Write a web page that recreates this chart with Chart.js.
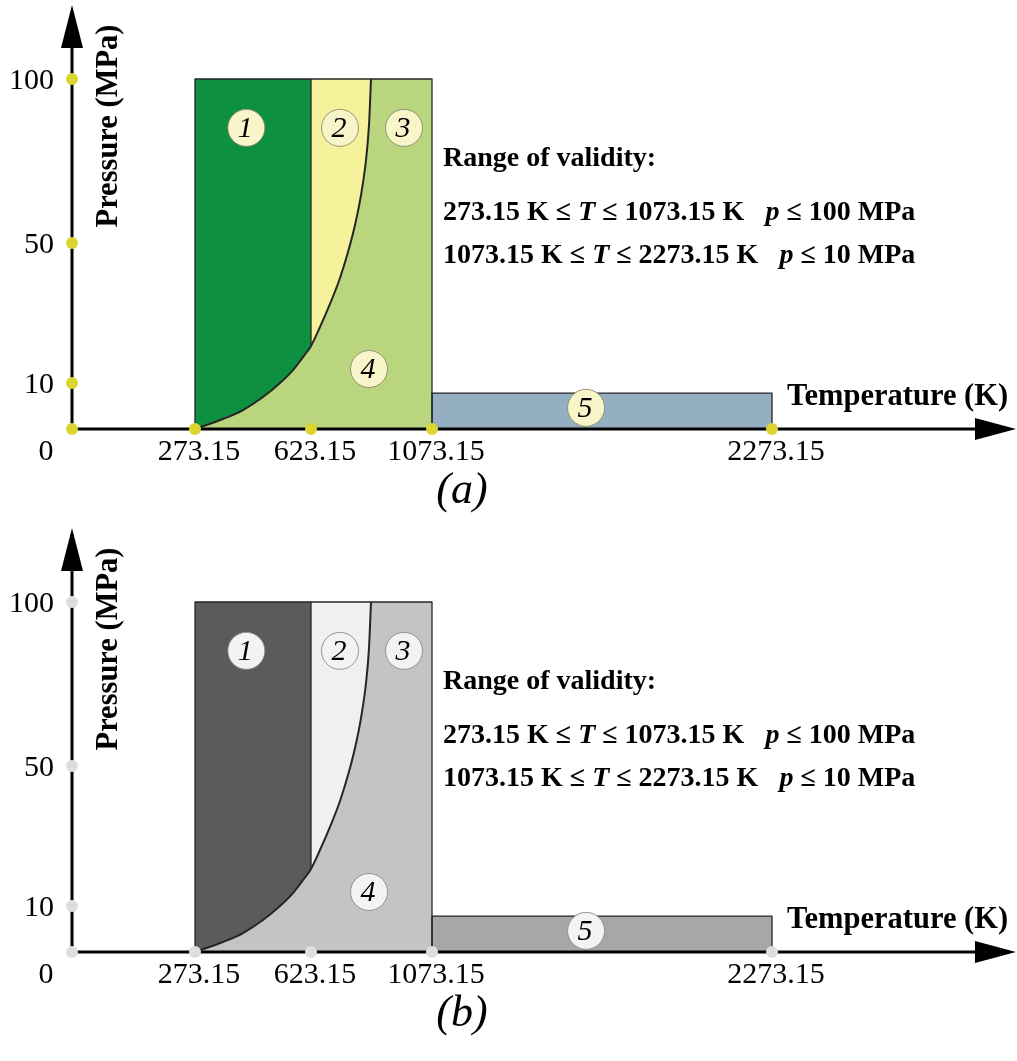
<!DOCTYPE html>
<html>
<head>
<meta charset="utf-8">
<script src="https://cdn.jsdelivr.net/npm/chart.js@4.4.1/dist/chart.umd.min.js"></script>
<style>
  body { margin: 0; background: #fff; width: 1017px; height: 1061px; position: relative; overflow: hidden; }
  canvas { position: absolute; left: 0; display: block; }
  #chartA { top: 0; }
  #chartB { top: 523px; }
</style>
</head>
<body>
<canvas id="chartA" width="1017" height="523"></canvas>
<canvas id="chartB" width="1017" height="538"></canvas>
<script>
// tick values on the two axes (K and MPa)
const tempTicks = [0, 273.15, 623.15, 1073.15, 2273.15];
const pressTicks = [0, 10, 50, 100];

// saturation line joined to the B23 boundary
const boundaryT = [273.15, 357.6, 418.0, 478.3, 529.6, 568.8, 599.0, 623.15, 656.6, 693.8, 731.0, 760.8, 786.8, 809.1, 827.7, 838.9, 846.3];
const boundaryP = [0, 2.17, 4.13, 6.96, 10.0, 13.7, 17.4, 20.6, 26.0, 32.6, 40.0, 47.4, 55.5, 64.6, 75.3, 86.0, 100];

// region limits
const mainT = [273.15, 1073.15];
const mainP = [0, 100];
const region5T = [1073.15, 2273.15];
const region5P = [0, 7.8];

// region number markers
const regionNames = ['1', '2', '3', '4', '5'];
const regionLabelT = [428, 731, 969, 839, 1617];
const regionLabelP = [85.1, 85.1, 85.1, 14.0, 4.6];

// the figure's axes are not linear: each tick gets its own share of the axis
const axisBreaks = {
  x: { stops: [0, 273.15, 623.15, 1073.15, 2273.15, 3130], spots: [0, 123, 239, 360, 700, 944].map(v => v / 944) },
  y: { stops: [0, 10, 50, 100, 122.6], spots: [0, 46, 186, 350, 424].map(v => v / 424) }
};

class PiecewiseScale extends Chart.LinearScale {
  getPixelForValue(value) {
    if (value === null || value === undefined) return NaN;
    const { stops, spots } = axisBreaks[this.axis];
    let i = 1;
    while (i < stops.length - 1 && value > stops[i]) i++;
    const f = spots[i - 1] + (value - stops[i - 1]) / (stops[i] - stops[i - 1]) * (spots[i] - spots[i - 1]);
    return this.getPixelForDecimal(f);
  }
  getValueForPixel(pixel) {
    const { stops, spots } = axisBreaks[this.axis];
    const d = this.getDecimalForPixel(pixel);
    let i = 1;
    while (i < spots.length - 1 && d > spots[i]) i++;
    return stops[i - 1] + (d - spots[i - 1]) / (spots[i] - spots[i - 1]) * (stops[i] - stops[i - 1]);
  }
}
PiecewiseScale.id = 'piecewise';
PiecewiseScale.defaults = Chart.LinearScale.defaults;
Chart.register(PiecewiseScale);

const SERIF = '"Liberation Serif", "Times New Roman", serif';

const palettes = {
  a: { r1: '#0d9040', r2: '#f6f29c', r34: '#b9d67f', r5: '#94afc1', dot: '#dcd431', mark: '#f8f5cb', markEdge: '#8e8b67' },
  b: { r1: '#5b5b5b', r2: '#f0f0f0', r34: '#c4c4c4', r5: '#a7a7a7', dot: '#dedede', mark: '#f3f3f3', markEdge: '#8a8a8a' }
};

function pts(ts, ps) { return ts.map((t, i) => ({ x: t, y: ps[i] })); }

function rect(t, p) {
  return [{ x: t[0], y: p[0] }, { x: t[1], y: p[0] }, { x: t[1], y: p[1] }, { x: t[0], y: p[1] }, { x: t[0], y: p[0] }];
}

function drawRuns(ctx, x, y, runs) {
  for (const [text, font] of runs) {
    ctx.font = font;
    ctx.fillText(text, x, y);
    x += ctx.measureText(text).width;
  }
}

function makeChart(id, key, letter) {
  const pal = palettes[key];
  const canvas = document.getElementById(id);
  const split = boundaryT.indexOf(623.15);
  const curve = pts(boundaryT, boundaryP);
  const region1 = curve.slice(0, split + 1).concat([{ x: 623.15, y: 100 }, { x: 273.15, y: 100 }, { x: 273.15, y: 0 }]);
  const region2 = curve.slice(split).concat([{ x: 623.15, y: 100 }, curve[split]]);
  const tickDots = tempTicks.map(t => ({ x: t, y: 0 })).concat(pressTicks.slice(1).map(p => ({ x: 0, y: p })));
  const marks = pts(regionLabelT, regionLabelP);

  const polygon = (label, data, color, order) => ({
    label, data, order, fill: 'shape', backgroundColor: color,
    borderColor: 'transparent', borderWidth: 0, pointRadius: 0, clip: false
  });
  const outline = (label, data, width, order) => ({
    label, data, order, fill: false, borderColor: '#262626', borderWidth: width,
    pointRadius: 0, clip: false
  });

  const axesPlugin = {
    id: 'axes' + key,
    beforeDatasetDraw(chart, args) {
      if (args.meta.label !== 'tickDots') return;
      const ctx = chart.ctx;
      const xs = chart.scales.x, ys = chart.scales.y;
      const x0 = xs.getPixelForValue(0), y0 = ys.getPixelForValue(0);
      const ca = chart.chartArea;
      ctx.save();
      ctx.strokeStyle = '#000';
      ctx.fillStyle = '#000';
      ctx.lineWidth = 3;
      ctx.beginPath();
      ctx.moveTo(x0, y0 + 1.5);
      ctx.lineTo(x0, ca.top + 40);
      ctx.moveTo(x0 - 1.5, y0);
      ctx.lineTo(ca.right - 38, y0);
      ctx.stroke();
      // arrow heads
      ctx.beginPath();
      ctx.moveTo(x0, ca.top);
      ctx.lineTo(x0 + 11, ca.top + 43);
      ctx.lineTo(x0 - 11, ca.top + 43);
      ctx.closePath();
      ctx.fill();
      ctx.beginPath();
      ctx.moveTo(ca.right, y0);
      ctx.lineTo(ca.right - 41, y0 - 11);
      ctx.lineTo(ca.right - 41, y0 + 11);
      ctx.closePath();
      ctx.fill();
      ctx.restore();
    },
    afterDatasetsDraw(chart) {
      const ctx = chart.ctx;
      const xs = chart.scales.x, ys = chart.scales.y;
      const x0 = xs.getPixelForValue(0), y0 = ys.getPixelForValue(0);
      ctx.save();
      ctx.fillStyle = '#000';
      // tick labels
      ctx.font = '30px ' + SERIF;
      ctx.textBaseline = 'alphabetic';
      ctx.textAlign = 'center';
      ctx.fillText('0', x0 - 26, y0 + 31);
      tempTicks.slice(1).forEach(t => ctx.fillText(String(t), xs.getPixelForValue(t) + 4, y0 + 31));
      ctx.textAlign = 'right';
      pressTicks.slice(1).forEach(p => ctx.fillText(String(p), x0 - 18, ys.getPixelForValue(p) + 10));
      // axis titles
      ctx.font = 'bold 30.5px ' + SERIF;
      ctx.textAlign = 'left';
      ctx.fillText('Temperature (K)', 787, 405);
      ctx.save();
      ctx.translate(117, 126);
      ctx.rotate(-Math.PI / 2);
      ctx.textAlign = 'center';
      ctx.fillText('Pressure (MPa)', 0, 0);
      ctx.restore();
      // range of validity
      const B = 'bold 28px ' + SERIF, BI = 'italic bold 28px ' + SERIF;
      ctx.font = B;
      ctx.fillText('Range of validity:', 443, 166);
      drawRuns(ctx, 443, 220, [['273.15 K \u2264 ', B], ['T', BI], [' \u2264 1073.15 K   ', B], ['p', BI], [' \u2264 100 MPa', B]]);
      drawRuns(ctx, 443, 263, [['1073.15 K \u2264 ', B], ['T', BI], [' \u2264 2273.15 K   ', B], ['p', BI], [' \u2264 10 MPa', B]]);
      // region numbers
      const meta = chart.getDatasetMeta(chart.data.datasets.findIndex(d => d.label === 'marks'));
      ctx.font = 'italic 30px ' + SERIF;
      ctx.textAlign = 'center';
      ctx.textBaseline = 'middle';
      meta.data.forEach((el, i) => ctx.fillText(regionNames[i], el.x - 1, el.y + 1));
      // panel letter
      ctx.font = 'italic 44px ' + SERIF;
      ctx.textBaseline = 'alphabetic';
      ctx.fillText('(' + letter + ')', 462, 503);
      ctx.restore();
    }
  };

  return new Chart(canvas, {
    type: 'line',
    data: {
      datasets: [
        { label: 'marks', data: marks, order: 1, showLine: false, pointRadius: 18.5, pointBackgroundColor: pal.mark,
          pointBorderColor: pal.markEdge, pointBorderWidth: 0.9, clip: false },
        { label: 'tickDots', data: tickDots, order: 2, showLine: false, pointRadius: 6, pointBackgroundColor: pal.dot,
          pointBorderWidth: 0, pointBorderColor: pal.dot, clip: false },
        Object.assign(outline('boundary', curve, 2, 4), { cubicInterpolationMode: 'monotone' }),
        outline('divider', [curve[split], { x: 623.15, y: 100 }], 1.3, 5),
        outline('outer', rect(mainT, mainP), 1.3, 6),
        Object.assign(polygon('region5', rect(region5T, region5P), pal.r5, 7), { borderColor: '#262626', borderWidth: 1.3 }),
        polygon('region2', region2, pal.r2, 8),
        polygon('region1', region1, pal.r1, 9),
        polygon('region34', rect(mainT, mainP), pal.r34, 10)
      ]
    },
    options: {
      responsive: false,
      animation: false,
      events: [],
      devicePixelRatio: 1,
      layout: { autoPadding: false, padding: { left: 72, right: 1, top: 5, bottom: canvas.height - 429 } },
      elements: { line: { tension: 0, borderJoinStyle: 'round' } },
      scales: {
        x: { type: 'piecewise', min: 0, max: 3130, display: false },
        y: { type: 'piecewise', min: 0, max: 122.6, display: false }
      },
      plugins: { legend: { display: false }, tooltip: { enabled: false }, title: { display: false } }
    },
    plugins: [axesPlugin]
  });
}

makeChart('chartA', 'a', 'a');
makeChart('chartB', 'b', 'b');
</script>
</body>
</html>
